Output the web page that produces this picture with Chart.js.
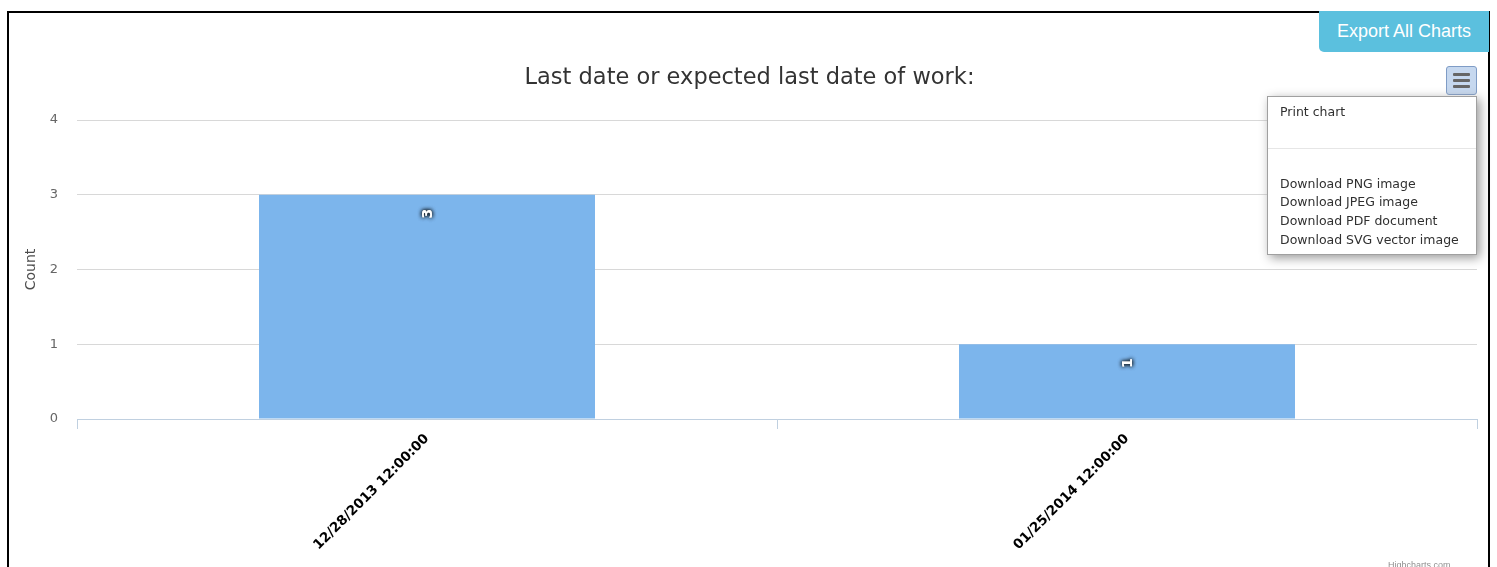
<!DOCTYPE html>
<html>
<head>
<meta charset="utf-8">
<script src="https://cdn.jsdelivr.net/npm/chart.js@4"></script>
<style>
  body { margin: 0; background: #fff; overflow: hidden; font-family: "Liberation Sans", Arial, sans-serif; }
  #wrap { position: relative; width: 1497px; height: 567px; }
  #frame { position: absolute; left: 7px; top: 11px; width: 1479px; height: 600px; border: 2px solid #000; }
  canvas { position: absolute; left: 0; top: 0; }
  #exportbtn {
    position: absolute; left: 1319px; top: 11px; width: 170px; height: 41px;
    background: #5bc0de; color: #fff; font-size: 18px; line-height: 40px; text-align: center;
    border-bottom-left-radius: 5px;
  }
  #menubtn {
    position: absolute; left: 1446px; top: 66px; width: 29px; height: 27px;
    background: #c6d8ef; border: 1px solid #7f9cc6; border-radius: 3px;
  }
  #menubtn span { position: absolute; left: 6px; width: 17px; height: 3px; background: #666; border-radius: 1px; }
  #menu {
    position: absolute; left: 1267px; top: 96px; width: 208px; height: 157px;
    background: #fff; border: 1px solid #a0a0a0; box-shadow: 3px 3px 10px #999;
    font-family: "DejaVu Sans", sans-serif; font-size: 12.5px; color: #303030;
  }
  #menu .item { position: absolute; left: 12px; }
  #menu hr { position: absolute; left: 0; top: 51px; width: 100%; margin: 0; border: 0; border-top: 1px solid #e6e6e6; }
  #credit { position: absolute; left: 1388px; top: 560px; font-size: 9px; color: #909090; }
</style>
</head>
<body>
<div id="wrap">
  <canvas id="myChart" width="1497" height="567"></canvas>
  <div id="frame"></div>
  <div id="exportbtn">Export All Charts</div>
  <div id="menubtn">
    <span style="top:6px"></span><span style="top:12px"></span><span style="top:18px"></span>
  </div>
  <div id="menu">
    <div class="item" style="top:7px">Print chart</div>
    <hr>
    <div class="item" style="top:79px">Download PNG image</div>
    <div class="item" style="top:97px">Download JPEG image</div>
    <div class="item" style="top:116px">Download PDF document</div>
    <div class="item" style="top:135px">Download SVG vector image</div>
  </div>
  <div id="credit">Highcharts.com</div>
</div>
<script>
// data
const categories = ["12/28/2013 12:00:00", "01/25/2014 12:00:00"];
const counts = [3, 1];
const yTicks = [0, 1, 2, 3, 4];

const chartTitle = "Last date or expected last date of work:";
const yTitle = "Count";

// white rotated labels inside the top of each bar
const barLabels = {
  id: "barLabels",
  afterDatasetsDraw(chart) {
    const ctx = chart.ctx;
    const meta = chart.getDatasetMeta(0);
    meta.data.forEach((bar, i) => {
      ctx.save();
      ctx.translate(bar.x + 1, bar.y + 19);
      ctx.rotate(-Math.PI / 2);
      ctx.font = "bold 14px 'DejaVu Sans', sans-serif";
      ctx.fillStyle = "#fff";
      ctx.textAlign = "center";
      ctx.textBaseline = "middle";
      ctx.shadowColor = "rgba(0,0,0,1)";
      ctx.shadowBlur = 4;
      ctx.fillText(String(counts[i]), 0, 0);
      ctx.fillText(String(counts[i]), 0, 0);
      ctx.restore();
    });
  },
};

const ctx = document.getElementById("myChart").getContext("2d");
const myChart = new Chart(ctx, {
  type: "bar",
  data: {
    labels: categories,
    datasets: [
      {
        data: counts,
        backgroundColor: "#7cb5ec",
        borderWidth: 0,
        categoryPercentage: 0.6,
        barPercentage: 0.8,
      },
    ],
  },
  plugins: [barLabels],
  options: {
    responsive: false,
    animation: false,
    layout: { padding: { left: 22, right: 20, top: 0, bottom: 0 } },
    plugins: {
      legend: { display: false },
      tooltip: { enabled: false },
      title: {
        display: true,
        text: chartTitle,
        color: "#333",
        font: { family: "'DejaVu Sans', sans-serif", size: 22.5, weight: "normal" },
        padding: { top: 65, bottom: 28 },
      },
    },
    scales: {
      x: {
        offset: true,
        grid: {
          offset: true,
          drawOnChartArea: false,
          drawTicks: true,
          tickLength: 10,
          color: "#c0d0e0",
        },
        border: { color: "#c0d0e0", width: 1 },
        ticks: {
          minRotation: 45,
          maxRotation: 45,
          color: "#000",
          padding: 2,
          font: { family: "'DejaVu Sans', sans-serif", size: 13.5, weight: "bold" },
        },
        afterFit: (s) => { s.height = 148; },
      },
      y: {
        min: 0,
        max: 4,
        afterBuildTicks: (s) => { s.ticks = yTicks.map((v) => ({ value: v })); },
        grid: { color: "#d8d8d8", drawTicks: false },
        border: { display: false },
        ticks: {
          color: "#666",
          padding: 19,
          font: { family: "'DejaVu Sans', sans-serif", size: 13 },
        },
        title: {
          display: true,
          text: yTitle,
          color: "#4d4d4d",
          padding: 1,
          font: { family: "'DejaVu Sans', sans-serif", size: 14 },
        },
        afterFit: (s) => { s.width = 55; },
      },
    },
  },
});
</script>
</body>
</html>
